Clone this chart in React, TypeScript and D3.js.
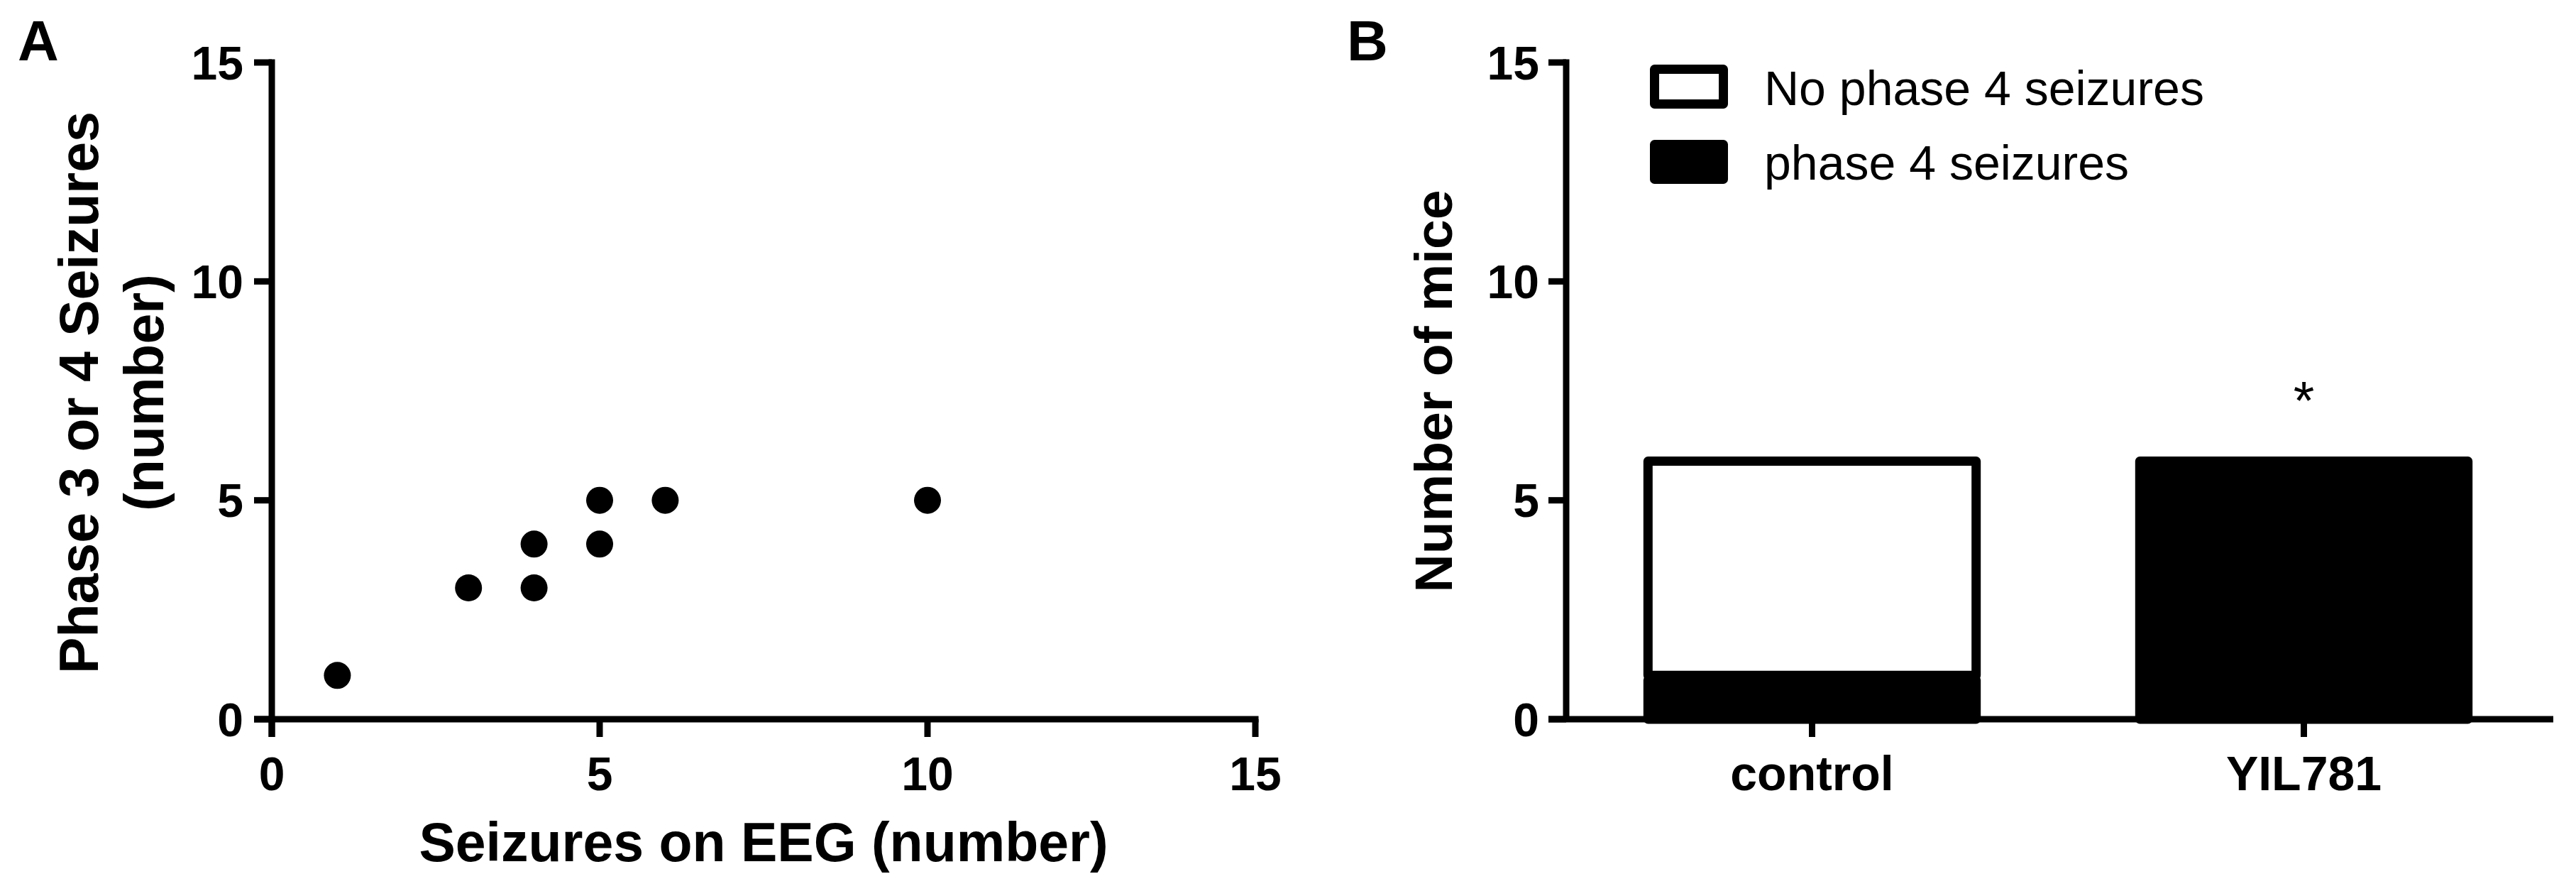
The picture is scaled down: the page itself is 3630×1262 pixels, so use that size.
import React from "react";
import * as d3 from "d3";

// Panel A: scatter data
const eegSeizures = [1, 3, 4, 4, 5, 5, 6, 10];
const behavSeizures = [1, 3, 3, 4, 4, 5, 5, 5];
const axisTicksA = [0, 5, 10, 15];

// Panel B: stacked bars
const groups = ["control", "YIL781"];
const phase4 = [1, 6];
const noPhase4 = [5, 0];
const axisTicksB = [0, 5, 10, 15];
const legendLabels = ["No phase 4 seizures", "phase 4 seizures"];
const sigMarks = ["", "*"];

const FONT = "Arial, 'Liberation Sans', Helvetica, sans-serif";

export default function App() {
  const W = 3630, H = 1262;
  const AX = 9; // axis stroke
  const TL = 25; // tick length

  // Panel A scales
  const xA = d3.scaleLinear().domain([0, 15]).range([383, 1769]);
  const yA = d3.scaleLinear().domain([0, 15]).range([1013, 88]);

  // Panel B scales
  const yB = d3.scaleLinear().domain([0, 15]).range([1013, 88]);
  const xB = d3.scaleBand<string>().domain(groups).range([2207, 3593]).paddingInner(0.314).paddingOuter(0.157);
  const axB = 2207;

  const BS = 13; // bar stroke

  return (
    <svg width={W} height={H} viewBox={`0 0 ${W} ${H}`} style={{ position: "absolute", left: 0, top: 0, background: "#fff" }} fontFamily={FONT}>
      <rect x={0} y={0} width={W} height={H} fill="#fff" />
      {/* Panel labels */}
      <text x={25} y={85} fontSize={80} fontWeight="bold">A</text>
      <text x={1898} y={85} fontSize={80} fontWeight="bold">B</text>

      {/* ===== Panel A ===== */}
      <g>
        {/* axes */}
        <line x1={xA(0) - TL} x2={xA(15) + AX / 2} y1={yA(0)} y2={yA(0)} stroke="#000" strokeWidth={AX} />
        <line x1={xA(0)} x2={xA(0)} y1={yA(15) - AX / 2} y2={yA(0) + TL} stroke="#000" strokeWidth={AX} />
        {axisTicksA.map((t) => (
          <g key={"ya" + t}>
            <line x1={xA(0) - TL} x2={xA(0)} y1={yA(t)} y2={yA(t)} stroke="#000" strokeWidth={AX} />
            <text x={xA(0) - TL - 15} y={yA(t)} dy="0.36em" textAnchor="end" fontSize={66} fontWeight="bold">{t}</text>
          </g>
        ))}
        {axisTicksA.map((t) => (
          <g key={"xa" + t}>
            <line x1={xA(t)} x2={xA(t)} y1={yA(0)} y2={yA(0) + TL} stroke="#000" strokeWidth={AX} />
            <text x={xA(t)} y={1113} textAnchor="middle" fontSize={66} fontWeight="bold">{t}</text>
          </g>
        ))}
        {/* points */}
        {eegSeizures.map((v, i) => (
          <circle key={"p" + i} cx={xA(v)} cy={yA(behavSeizures[i])} r={19} fill="#000" />
        ))}
        {/* titles */}
        <text x={(xA(0) + xA(15)) / 2} y={1213} textAnchor="middle" fontSize={77} fontWeight="bold">Seizures on EEG (number)</text>
        <g transform={`translate(138, 553) rotate(-90)`}>
          <text x={0} y={0} textAnchor="middle" fontSize={77} fontWeight="bold">Phase 3 or 4 Seizures</text>
        </g>
        <g transform={`translate(230, 553) rotate(-90)`}>
          <text x={0} y={0} textAnchor="middle" fontSize={77} fontWeight="bold">(number)</text>
        </g>
      </g>

      {/* ===== Panel B ===== */}
      <g>
        {/* bars */}
        {groups.map((g, i) => {
          const x0 = xB(g)!;
          const w = xB.bandwidth();
          const segs = [
            { lo: 0, hi: phase4[i], fill: "#000" },
            { lo: phase4[i], hi: phase4[i] + noPhase4[i], fill: "#fff" },
          ];
          return (
            <g key={g}>
              {segs.map((s, j) =>
                s.hi > s.lo ? (
                  <rect
                    key={j}
                    x={x0 + BS / 2}
                    y={yB(s.hi) + BS / 2}
                    width={w - BS}
                    height={yB(s.lo) - yB(s.hi) - BS / 2}
                    fill={s.fill}
                    stroke="#000"
                    strokeWidth={BS}
                    strokeLinejoin="round"
                  />
                ) : null
              )}
              <text x={x0 + w / 2} y={yB(phase4[i] + noPhase4[i]) - 53} textAnchor="middle" fontSize={76}>{sigMarks[i]}</text>
            </g>
          );
        })}
        {/* axes */}
        <line x1={axB - TL} x2={3598} y1={yB(0)} y2={yB(0)} stroke="#000" strokeWidth={AX} />
        <line x1={axB} x2={axB} y1={yB(15) - AX / 2} y2={yB(0)} stroke="#000" strokeWidth={AX} />
        {axisTicksB.map((t) => (
          <g key={"yb" + t}>
            <line x1={axB - TL} x2={axB} y1={yB(t)} y2={yB(t)} stroke="#000" strokeWidth={AX} />
            <text x={axB - TL - 13} y={yB(t)} dy="0.36em" textAnchor="end" fontSize={66} fontWeight="bold">{t}</text>
          </g>
        ))}
        {groups.map((g) => (
          <g key={"xb" + g}>
            <line x1={xB(g)! + xB.bandwidth() / 2} x2={xB(g)! + xB.bandwidth() / 2} y1={yB(0)} y2={yB(0) + TL} stroke="#000" strokeWidth={AX} />
            <text x={xB(g)! + xB.bandwidth() / 2} y={1113} textAnchor="middle" fontSize={68} fontWeight="bold">{g}</text>
          </g>
        ))}
        {/* y title */}
        <g transform={`translate(2046, 551) rotate(-90)`}>
          <text x={0} y={0} textAnchor="middle" fontSize={75} fontWeight="bold">Number of mice</text>
        </g>
        {/* legend */}
        {legendLabels.map((lab, i) => (
          <g key={lab}>
            <rect x={2325 + BS / 2} y={91 + i * 106 + BS / 2} width={110 - BS} height={62 - BS} fill={i === 0 ? "#fff" : "#000"} stroke="#000" strokeWidth={BS} strokeLinejoin="round" />
            <text x={2486} y={148 + i * 105} fontSize={68}>{lab}</text>
          </g>
        ))}
      </g>
    </svg>
  );
}
